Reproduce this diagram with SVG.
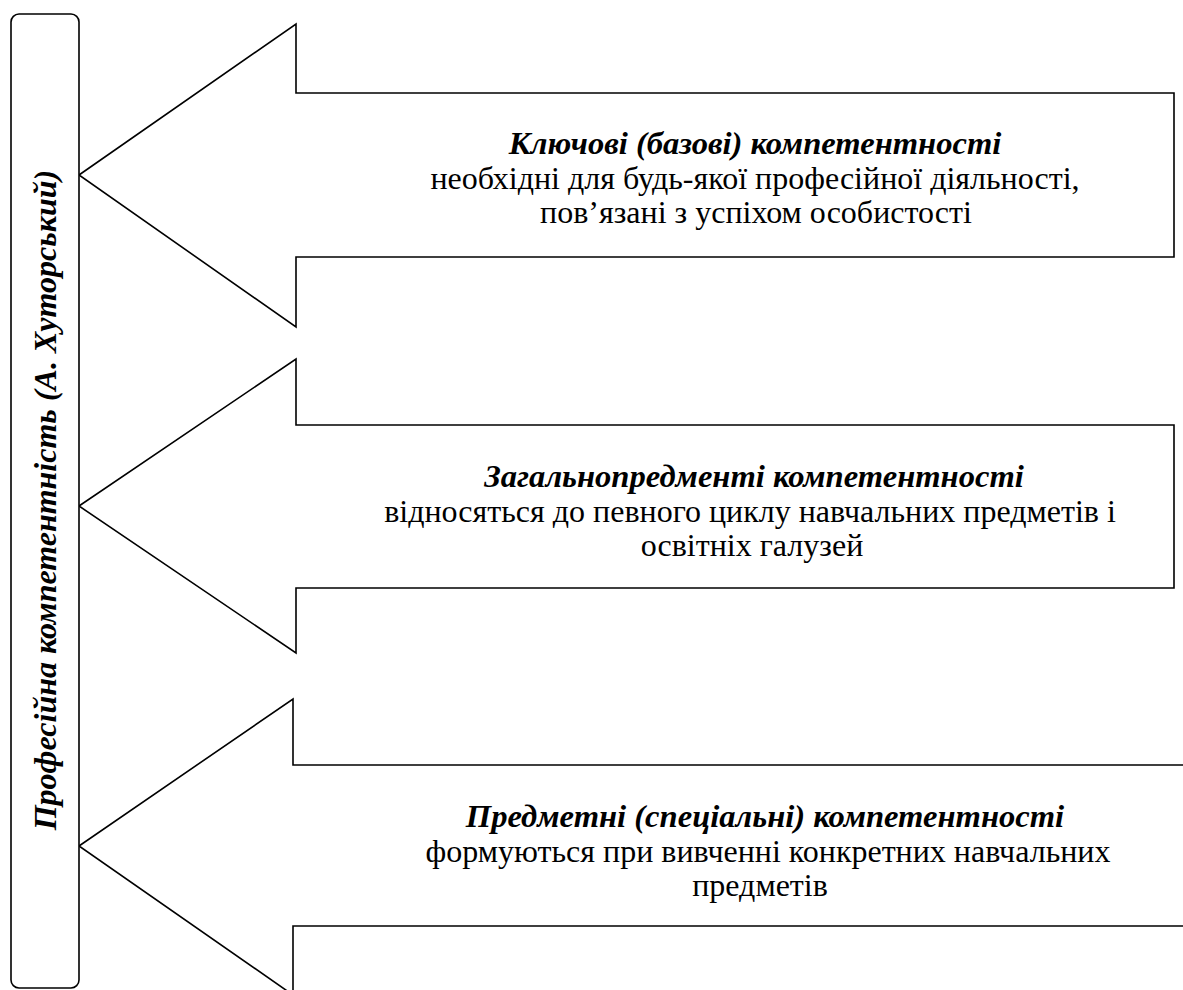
<svg xmlns="http://www.w3.org/2000/svg" width="1183" height="990" viewBox="0 0 1183 990">
<style>
.shape{fill:#fff;stroke:#000;stroke-width:1.6;stroke-linejoin:miter}
text{font-size:32px;fill:#000;text-anchor:middle}
.h{font-weight:bold;font-style:italic;font-size:32.6px}
</style>
<rect width="1183" height="990" fill="#fff"/>
<g id="arrow1">
<polygon class="shape" points="79,175 296,24 296,93 1174,93 1174,257 296,257 296,327"/>
<text class="h" font-family="Liberation Serif" x="755" y="154">Ключові (базові) компетентності</text>
<text font-family="Liberation Serif" x="755" y="189">необхідні для будь-якої професійної діяльності,</text>
<text font-family="Liberation Serif" x="756" y="223">пов’язані з успіхом особистості</text>
</g>
<g id="arrow2">
<polygon class="shape" points="79,506 296,359 296,425 1174,425 1174,588 296,588 296,653"/>
<text class="h" font-family="Liberation Serif" x="754" y="487">Загальнопредменті компетентності</text>
<text font-family="Liberation Serif" x="750" y="522">відносяться до певного циклу навчальних предметів і</text>
<text font-family="Liberation Serif" x="752" y="556">освітніх галузей</text>
</g>
<g id="arrow3">
<polygon class="shape" points="79,846 293,699 293,765 1195,765 1195,926 293,926 293,995"/>
<text class="h" font-family="Liberation Serif" x="765" y="827">Предметні (спеціальні) компетентності</text>
<text font-family="Liberation Serif" x="768" y="862">формуються при вивченні конкретних навчальних</text>
<text font-family="Liberation Serif" x="760" y="896">предметів</text>
</g>
<g id="main">
<rect class="shape" x="11" y="14" width="68" height="974" rx="8" ry="8"/>
<text class="h" font-family="Liberation Serif" style="font-size:32px" transform="translate(56,500) rotate(-90)" x="0" y="0">Професійна компетентність (А. Хуторський)</text>
</g>
<g id="connectors"/>
</svg>
